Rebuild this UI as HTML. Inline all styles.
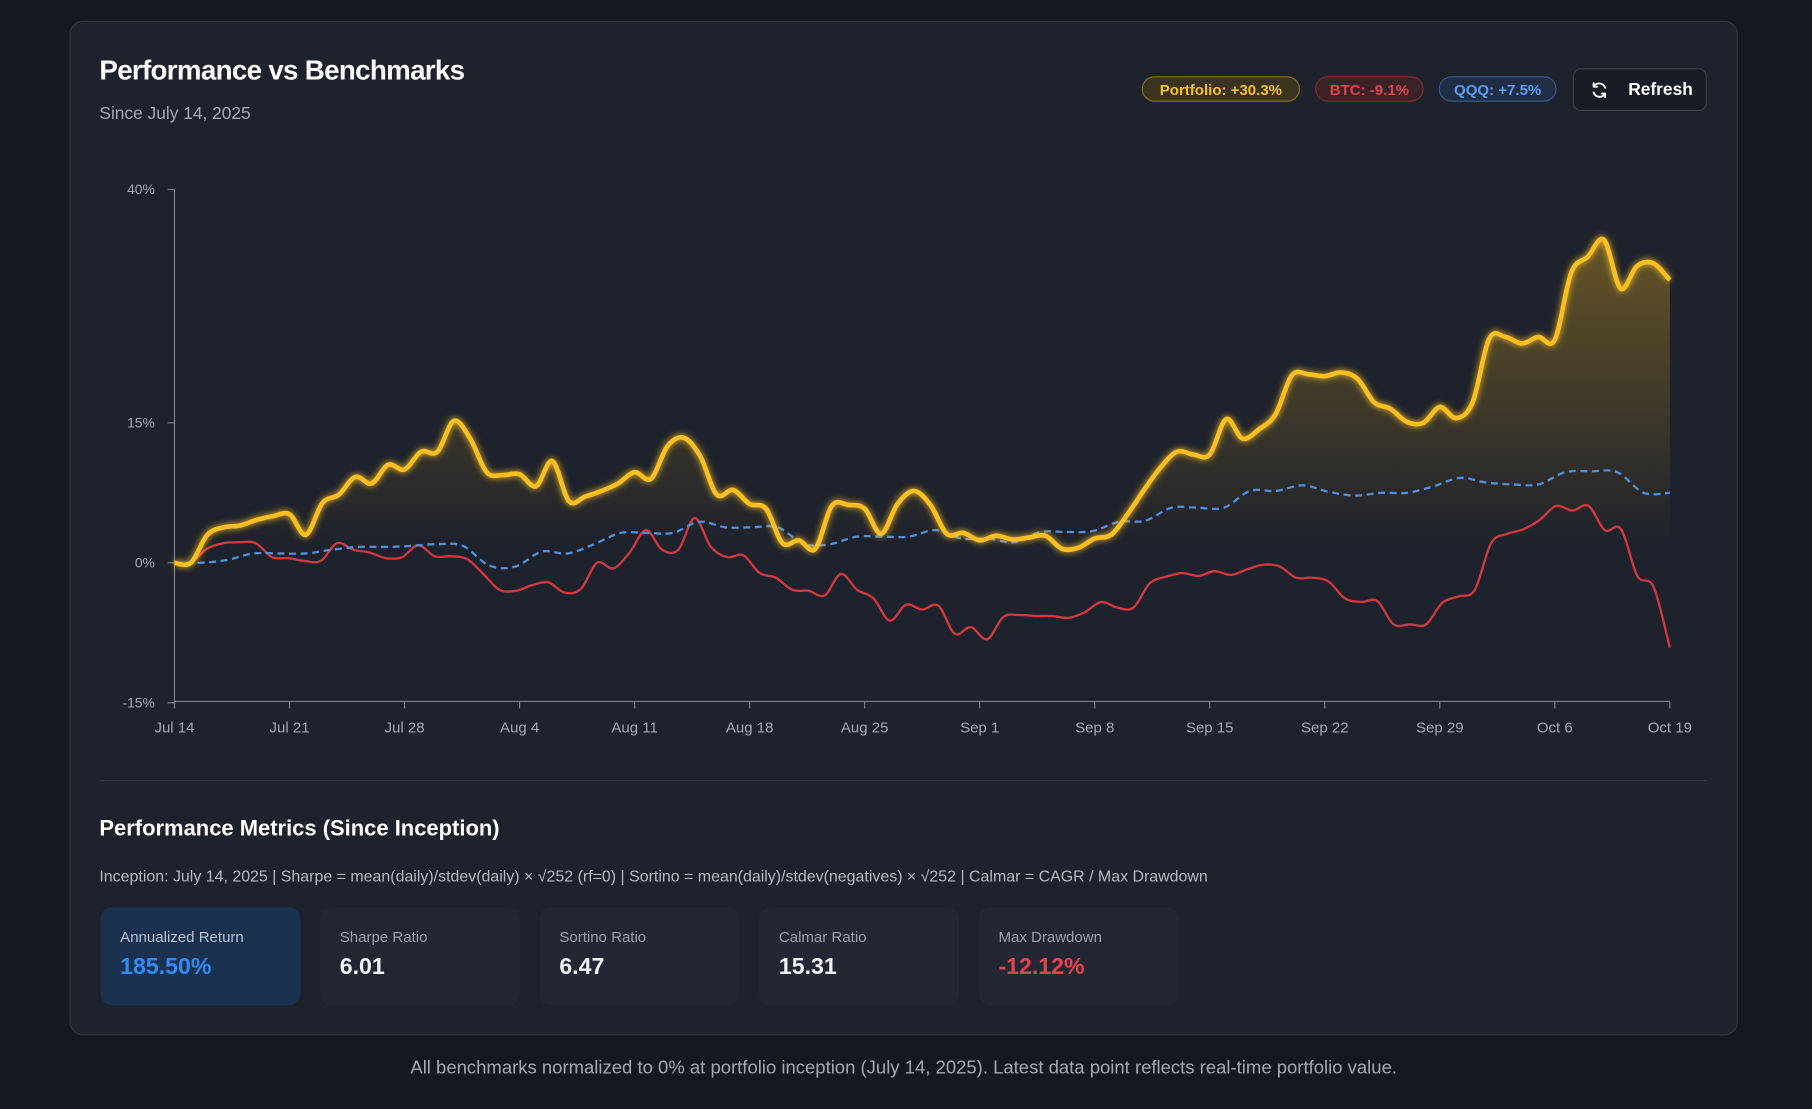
<!DOCTYPE html>
<html><head><meta charset="utf-8"><style>
html,body{margin:0;padding:0;background:#141821;width:1812px;height:1109px;overflow:hidden;font-family:"Liberation Sans",sans-serif}
#wrap{position:absolute;left:0;top:0;width:1568px;height:960px;transform:scale(1.15561);transform-origin:0 0}
.card{position:absolute;left:60px;top:18px;width:1444px;height:878px;background:#1e222c;border:1px solid #30343e;border-radius:12px;box-sizing:border-box}
.abs{position:absolute}
.badge{position:absolute;top:66px;height:22px;border-radius:11px;font-size:13px;font-weight:bold;line-height:21px;text-align:center;box-sizing:border-box}
.m{position:absolute;top:785px;width:173px;height:85px;background:#232733;border-radius:10px}
.m .l{position:absolute;left:17px;top:18px;font-size:13px;color:#9aa0ab}
.m .v{position:absolute;left:17px;top:41px;font-size:20px;font-weight:bold;color:#f2f3f5}
</style></head><body>
<div id="wrap">
<div class="card"></div>
<div class="abs" style="left:86px;top:48px;font-size:24px;font-weight:bold;color:#fff;letter-spacing:-0.6px">Performance vs Benchmarks</div>
<div class="abs" style="left:86px;top:90px;font-size:15px;color:#a3a8b2">Since July 14, 2025</div>
<div class="badge" style="left:988px;width:137px;background:#3a3320;border:1px solid #8a6f1c;color:#f7c12c">Portfolio: +30.3%</div>
<div class="badge" style="left:1138px;width:94px;background:#3b2228;border:1px solid #7c2d33;color:#e0434c">BTC: -9.1%</div>
<div class="badge" style="left:1245px;width:102px;background:#1f2d45;border:1px solid #3a5a8a;color:#5b9cf0">QQQ: +7.5%</div>
<div class="abs" style="left:1361px;top:59px;width:116px;height:37px;border:1px solid #3a3f4a;border-radius:7px;background:#181c24;box-sizing:border-box;color:#fff;font-size:15px;font-weight:bold;line-height:35px">
<svg width="16" height="16" viewBox="0 0 16 16" style="position:absolute;left:14px;top:10px"><path d="M13 6A5.5 5.5 0 0 0 3 5M3 2v3h3M3 10a5.5 5.5 0 0 0 10 1M13 14v-3h-3" fill="none" stroke="#fff" stroke-width="1.6" stroke-linecap="round" stroke-linejoin="round"/></svg>
<span style="position:absolute;left:47px">Refresh</span></div>
<svg id="chart" class="abs" style="left:0;top:0" width="1568" height="660"></svg>
<div class="abs" style="left:86px;top:675px;width:1391px;height:1px;background:#30343e"></div>
<div class="abs" style="left:86px;top:707px;font-size:19px;font-weight:bold;color:#fff">Performance Metrics (Since Inception)</div>
<div class="abs" style="left:86px;top:751px;font-size:13.8px;color:#b4b9c2;white-space:nowrap">Inception: July 14, 2025 | Sharpe = mean(daily)/stdev(daily) × √252 (rf=0) | Sortino = mean(daily)/stdev(negatives) × √252 | Calmar = CAGR / Max Drawdown</div>
<div class="m" style="left:87px;background:#1b3150"><div class="l" style="color:#b7c4d6">Annualized Return</div><div class="v" style="color:#2f8cf5">185.50%</div></div>
<div class="m" style="left:277px"><div class="l">Sharpe Ratio</div><div class="v">6.01</div></div>
<div class="m" style="left:467px"><div class="l">Sortino Ratio</div><div class="v">6.47</div></div>
<div class="m" style="left:657px"><div class="l">Calmar Ratio</div><div class="v">15.31</div></div>
<div class="m" style="left:847px"><div class="l">Max Drawdown</div><div class="v" style="color:#e8434c">-12.12%</div></div>
<div class="abs" style="left:0;width:1564px;text-align:center;top:916px;font-size:16px;color:#a3a8b2">All benchmarks normalized to 0% at portfolio inception (July 14, 2025). Latest data point reflects real-time portfolio value.</div>
</div>
<script>
const xTickLabels=["Jul 14","Jul 21","Jul 28","Aug 4","Aug 11","Aug 18","Aug 25","Sep 1","Sep 8","Sep 15","Sep 22","Sep 29","Oct 6","Oct 19"];
const yTickValues=[40,15,0,-15];
const portfolio=[0,0,3,3.8,4,4.6,5,5.2,3,6.4,7.3,9.2,8.5,10.5,10,11.9,11.9,15.2,13.3,9.7,9.4,9.5,8.2,10.9,6.6,7.1,7.7,8.5,9.7,9,12.5,13.4,11.4,7.3,7.8,6.3,5.8,2.1,2.4,1.5,6.1,6.2,5.8,3.1,6.3,7.7,6.2,3.1,3.2,2.4,2.9,2.5,2.7,2.9,1.5,1.6,2.6,3,5.2,7.8,10.2,11.9,11.6,11.6,15.4,13.3,14.3,15.9,20.1,20.2,20,20.4,19.7,17.2,16.5,15.1,15,16.7,15.5,17.2,24,24.2,23.5,24.2,23.9,31.1,32.8,34.6,29.4,31.8,32.1,30.3];
const btc=[0,0,1.5,2.1,2.2,2.1,0.6,0.5,0.2,0.2,2.1,1.4,1.1,0.5,0.6,1.9,0.7,0.7,0.4,-1.2,-2.9,-3,-2.4,-2.1,-3.2,-2.8,0,-0.6,1.1,3.5,1.4,1.4,4.8,1.7,0.6,0.8,-1.1,-1.6,-2.9,-3,-3.5,-1.2,-2.9,-3.8,-6.2,-4.5,-5,-4.6,-7.6,-6.9,-8.2,-5.8,-5.6,-5.7,-5.7,-5.9,-5.3,-4.2,-4.8,-4.8,-2.2,-1.5,-1.1,-1.4,-0.9,-1.3,-0.7,-0.2,-0.4,-1.6,-1.6,-2,-3.8,-4.2,-4.1,-6.6,-6.6,-6.6,-4.3,-3.6,-2.9,2.1,3.1,3.6,4.6,6.1,5.6,6.1,3.5,3.6,-1.4,-2.6,-9.1];
const qqq=[0,0,0.3,1,1,1,1.4,1.7,1.7,1.8,2,1.8,-0.3,-0.4,1.2,1,2,3.2,3.2,3.2,4.4,3.8,3.8,3.8,2,2,2.8,2.8,2.8,3.5,2.6,2.6,2.2,3.3,3.3,3.4,4.4,4.5,5.9,5.9,5.9,7.7,7.7,8.3,7.6,7.2,7.5,7.5,8.2,9.1,8.6,8.4,8.4,9.7,9.8,9.7,7.5,7.5];
const NS="http://www.w3.org/2000/svg";
const svg=document.getElementById('chart');
const X0=151,X1=1445,Y40=164,Y0=487;
const ppu=(Y0-Y40)/40;
function yS(v){return Y0-v*ppu;}
function xTick(i){return X0+i*(X1-X0)/(xTickLabels.length-1);}
function xIdx(i,n){return X0+i*(X1-X0)/(n-1);}
function mk(t,a){const e=document.createElementNS(NS,t);for(const k in a)e.setAttribute(k,a[k]);svg.appendChild(e);return e;}
function smooth(arr){const p=arr.map((v,i)=>[xIdx(i,arr.length),yS(v)]);let d='M'+p[0][0]+','+p[0][1];
for(let i=0;i<p.length-1;i++){const a=p[i-1]||p[i],b=p[i],c=p[i+1],e=p[i+2]||c;
d+=' C'+(b[0]+(c[0]-a[0])/6)+','+(b[1]+(c[1]-a[1])/6)+' '+(c[0]-(e[0]-b[0])/6)+','+(c[1]-(e[1]-b[1])/6)+' '+c[0]+','+c[1];}return d;}
const defs=mk('defs',{});
defs.innerHTML='<linearGradient id="g" gradientUnits="userSpaceOnUse" x1="0" y1="200" x2="0" y2="470"><stop offset="0" stop-color="#f5b81c" stop-opacity="0.34"/><stop offset="1" stop-color="#f5b81c" stop-opacity="0"/></linearGradient><filter id="glow" x="-5%" y="-20%" width="110%" height="140%"><feGaussianBlur stdDeviation="3" result="b"/><feMerge><feMergeNode in="b"/><feMergeNode in="SourceGraphic"/></feMerge></filter>';
const ax=mk('path',{d:`M${X0},${Y40} V607 H${X1}`,fill:'none',stroke:'#7d838e','stroke-width':1});


yTickValues.forEach(v=>{
 mk('line',{x1:X0-6,x2:X0,y1:yS(v),y2:yS(v),stroke:'#7d838e'});
 const t=mk('text',{x:X0-17,y:yS(v)+4,'text-anchor':'end','font-size':12,fill:'#a3a8b2','font-family':'Liberation Sans, sans-serif'});
 t.textContent=v+'%';
 
 
});
xTickLabels.forEach((lab,i)=>{
 mk('line',{x1:xTick(i),x2:xTick(i),y1:607,y2:613,stroke:'#7d838e'});
 const t=mk('text',{x:xTick(i),y:634,'text-anchor':'middle','font-size':13,fill:'#a3a8b2','font-family':'Liberation Sans, sans-serif'});
 t.textContent=lab;
 
 
});
const pd=smooth(portfolio);
const area=mk('path',{d:pd+` L${X1},${yS(-2)} L${X0},${yS(-2)} Z`,fill:'url(#g)'});


const b=mk('path',{d:smooth(btc),fill:'none',stroke:'#d3383f','stroke-width':2,'stroke-linejoin':'round'});


const q=mk('path',{d:smooth(qqq),fill:'none',stroke:'#4f8fdc','stroke-width':2,'stroke-dasharray':'6,4'});


const p=mk('path',{d:pd,fill:'none',stroke:'#fbbf24','stroke-width':4,'stroke-linejoin':'round',filter:'url(#glow)'});


</script>
</body></html>
